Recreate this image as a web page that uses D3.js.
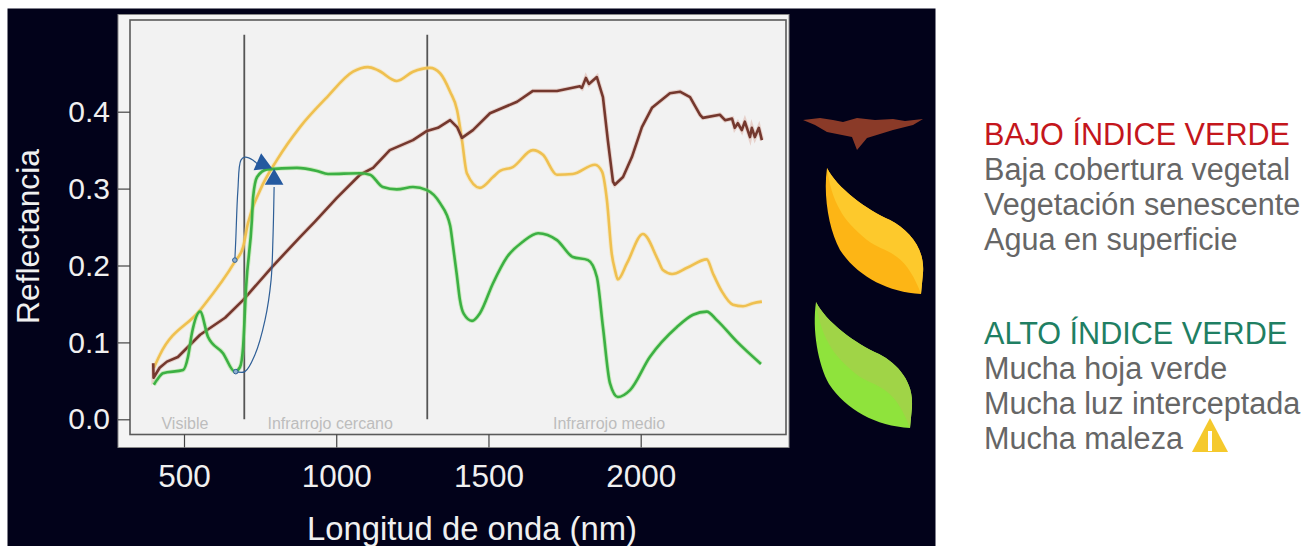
<!DOCTYPE html>
<html>
<head>
<meta charset="utf-8">
<script src="https://cdn.jsdelivr.net/npm/d3@7"></script>
<style>
  html, body { margin: 0; padding: 0; background: #fff; overflow: hidden; }
  text { font-family: "Liberation Sans", sans-serif; }
</style>
</head>
<body>
<svg id="chart" width="1306" height="546"></svg>
<script>
// espectros de reflectancia
var amarilloNm = [401,421,553,667,694,710,750,805,881,970,1055,1104,1137,1199,1252,1308,1341,1374,1397,1413,1429,1472,1515,1538,1580,1646,1679,1725,1777,1850,1873,1889,1905,1915,1925,1955,2007,2057,2073,2103,2152,2217,2237,2267,2303,2336,2369,2398];
var amarilloR = [.067,.084,.142,.205,.224,.255,.298,.337,.380,.419,.452,.458,.454,.440,.452,.457,.450,.426,.402,.363,.320,.301,.315,.323,.328,.350,.344,.318,.319,.331,.322,.285,.215,.195,.182,.203,.241,.207,.194,.189,.197,.208,.190,.166,.149,.147,.151,.153];

var verdeNm = [401,411,431,497,513,526,553,579,628,667,684,694,704,723,727,740,773,871,937,973,1078,1111,1153,1199,1252,1298,1341,1374,1383,1396,1406,1419,1446,1472,1515,1561,1613,1663,1725,1777,1827,1856,1876,1899,1925,1965,2030,2119,2172,2217,2250,2316,2395];
var verdeR = [.045,.051,.060,.064,.081,.112,.140,.107,.086,.062,.068,.094,.172,.259,.289,.315,.325,.327,.323,.319,.320,.318,.302,.299,.302,.298,.281,.252,.227,.188,.156,.137,.128,.138,.177,.211,.231,.242,.233,.211,.207,.185,.120,.047,.029,.038,.081,.120,.136,.140,.129,.101,.072];

var marronNm = [399,400,420,444,480,553,635,694,789,881,930,1002,1078,1121,1176,1252,1298,1334,1374,1397,1413,1449,1505,1594,1646,1725,1800,1807,1820,1830,1856,1876,1892,1909,1915,1942,1971,2004,2037,2096,2129,2162,2195,2204,2260,2277,2300,2309,2319,2332,2342,2359,2365,2375,2388,2398];
var marronR = [.073,.054,.067,.075,.081,.110,.132,.155,.198,.237,.257,.288,.318,.327,.350,.363,.375,.379,.389,.380,.366,.376,.398,.413,.427,.427,.433,.431,.444,.436,.445,.419,.363,.309,.305,.315,.341,.380,.405,.424,.426,.419,.396,.392,.396,.389,.391,.379,.385,.376,.387,.367,.379,.367,.379,.363];

var xTicks = [500, 1000, 1500, 2000];
var yTicks = [0.0, 0.1, 0.2, 0.3, 0.4];
var divisiones = [698, 1299];
var regiones = ["Visible", "Infrarrojo cercano", "Infrarrojo medio"];
var regionesNm = [503, 980, 1896];

// flechas azules dibujadas a mano sobre el grafico
var flechaANm = [667,670,677,687,700,727,745];
var flechaAR = [.207,.233,.298,.337,.341,.337,.330];
var flechaBNm = [670,700,733,766,786,792,796];
var flechaBR = [.062,.062,.084,.129,.181,.233,.302];

var textoBajo = ["Baja cobertura vegetal", "Vegetación senescente", "Agua en superficie"];
var textoAlto = ["Mucha hoja verde", "Mucha luz interceptada", "Mucha maleza"];

var svg = d3.select("#chart");

var x = d3.scaleLinear().domain([500, 2000]).range([184, 640.7]);
var y = d3.scaleLinear().domain([0, 0.4]).range([419.3, 111.7]);

// fondo oscuro y paneles
svg.append("rect").attr("x", 7.5).attr("y", 8.5).attr("width", 928).attr("height", 538).attr("fill", "#02021a");
svg.append("rect").attr("x", 118).attr("y", 14.5).attr("width", 671).attr("height", 433)
  .attr("fill", "#f4f4f4").attr("stroke", "#8a8a8a");
svg.append("rect").attr("x", 130).attr("y", 20).attr("width", 656).attr("height", 414.5)
  .attr("fill", "#f2f2f2").attr("stroke", "#5a5a5a").attr("stroke-width", 1.6);

// ejes
var xaxis = d3.axisBottom(x).tickValues(xTicks).tickSize(13).tickPadding(17).tickFormat(d3.format("d"));
var yaxis = d3.axisLeft(y).tickValues(yTicks).tickSize(12).tickPadding(8).tickFormat(d3.format(".1f"));

var gx = svg.append("g").attr("transform", "translate(0,434.5)").call(xaxis);
var gy = svg.append("g").attr("transform", "translate(130,0)").call(yaxis);
[gx, gy].forEach(function (g) {
  g.select(".domain").remove();
  g.selectAll("line").attr("stroke", "#444").attr("stroke-width", 1.2);
  g.selectAll("text").attr("fill", "#f0f0f0");
});
gx.selectAll("text").style("font-size", "31.5px");
gy.selectAll("text").style("font-size", "30px");

svg.append("text").attr("x", 472).attr("y", 540).attr("text-anchor", "middle")
  .attr("fill", "#f0f0f0").style("font-size", "32.8px").text("Longitud de onda (nm)");
svg.append("text").attr("transform", "translate(39,236.5) rotate(-90)").attr("text-anchor", "middle")
  .attr("fill", "#f0f0f0").style("font-size", "31.8px").text("Reflectancia");

// lineas de division
svg.selectAll(".div").data(divisiones).enter().append("line")
  .attr("x1", function (d) { return x(d); }).attr("x2", function (d) { return x(d); })
  .attr("y1", y(0)).attr("y2", y(0.5))
  .attr("stroke", "#555").attr("stroke-width", 1.8);

svg.selectAll(".reg").data(regiones).enter().append("text")
  .attr("x", function (d, i) { return x(regionesNm[i]); })
  .attr("y", 429).attr("text-anchor", "middle")
  .attr("fill", "#bdbdbd").style("font-size", "16px")
  .text(function (d) { return d; });

var linea = d3.line().x(function (d) { return x(d[0]); }).y(function (d) { return y(d[1]); });
var suave = d3.line().curve(d3.curveMonotoneX).x(function (d) { return x(d[0]); }).y(function (d) { return y(d[1]); });
var curva = d3.line().curve(d3.curveCatmullRom).x(function (d) { return x(d[0]); }).y(function (d) { return y(d[1]); });

function serie(nm, r, color, halo, gen) {
  var datos = d3.zip(nm, r);
  svg.append("path").datum(datos).attr("d", gen)
    .attr("fill", "none").attr("stroke", halo).attr("stroke-width", 4.5).attr("stroke-opacity", 0.4);
  svg.append("path").datum(datos).attr("d", gen)
    .attr("fill", "none").attr("stroke", color).attr("stroke-width", 2.6).attr("stroke-linejoin", "round");
}
serie(amarilloNm, amarilloR, "#efc050", "#f7dc90", suave);
serie(marronNm, marronR, "#74382e", "#d8a090", linea);
serie(verdeNm, verdeR, "#3cb044", "#8fe070", suave);

// flechas
function flecha(nm, r) {
  svg.append("path").datum(d3.zip(nm, r)).attr("d", curva)
    .attr("fill", "none").attr("stroke", "#2f5f97").attr("stroke-width", 1.2);
  svg.append("circle").attr("cx", x(nm[0])).attr("cy", y(r[0])).attr("r", 2.3)
    .attr("fill", "#8fb0d0").attr("stroke", "#2f5f97");
}
flecha(flechaANm, flechaAR);
flecha(flechaBNm, flechaBR);
var tri = d3.symbol().type(d3.symbolTriangle).size(150);
svg.append("path").attr("d", tri)
  .attr("transform", "translate(" + x(757) + "," + y(.332) + ") rotate(-6)").attr("fill", "#24599f");
svg.append("path").attr("d", tri)
  .attr("transform", "translate(" + x(796) + "," + y(.312) + ")").attr("fill", "#24599f");

// hojas
var hoja = "M0,0 C10,20 40,42 63,52 C82,62 98,80 96,105 L94,126 C60,124 30,108 13,82 C2,62 -4,28 0,0 Z";
var hojaClara = "M0,0 C10,20 40,42 63,52 C82,62 98,80 96,105 L94,126 C88,110 80,96 70,89 C58,80 50,80 40,72 C28,62 18,52 13,42 C6,30 2,15 0,0 Z";
function dibujaHoja(tx, ty, base, clara) {
  var g = svg.append("g").attr("transform", "translate(" + tx + "," + ty + ")");
  g.append("path").attr("d", hoja).attr("fill", base);
  g.append("path").attr("d", hojaClara).attr("fill", clara);
}
dibujaHoja(827, 168, "#fdb515", "#fdc92c");
dibujaHoja(816, 302, "#8fe33c", "#a0d447");
svg.append("path")
  .attr("d", "M803,120 L820,118 L833,120 L843,122 L857,118 L875,120 L893,119 L905,121 L923,119 L913,125 L893,130 L867,138 L857,150 L852,137 L827,132 L815,125 Z")
  .attr("fill", "#8a3a28");

// textos de la derecha
function bloque(titulo, color, lineas, y0) {
  svg.append("text").attr("x", 984).attr("y", y0).attr("fill", color).style("font-size", "30.6px").text(titulo);
  svg.selectAll(null).data(lineas).enter().append("text")
    .attr("x", 984).attr("y", function (d, i) { return y0 + 35 + i * 35; })
    .attr("fill", "#666").style("font-size", "30.6px").text(function (d) { return d; });
}
bloque("BAJO ÍNDICE VERDE", "#c4161c", textoBajo, 145);
bloque("ALTO ÍNDICE VERDE", "#1f7f63", textoAlto, 344);

// aviso
svg.append("path").attr("d", "M1210,418 L1228,452 L1192,452 Z").attr("fill", "#f5c92c");
svg.append("rect").attr("x", 1208).attr("y", 431).attr("width", 4).attr("height", 20).attr("fill", "#fff");
</script>
</body>
</html>
